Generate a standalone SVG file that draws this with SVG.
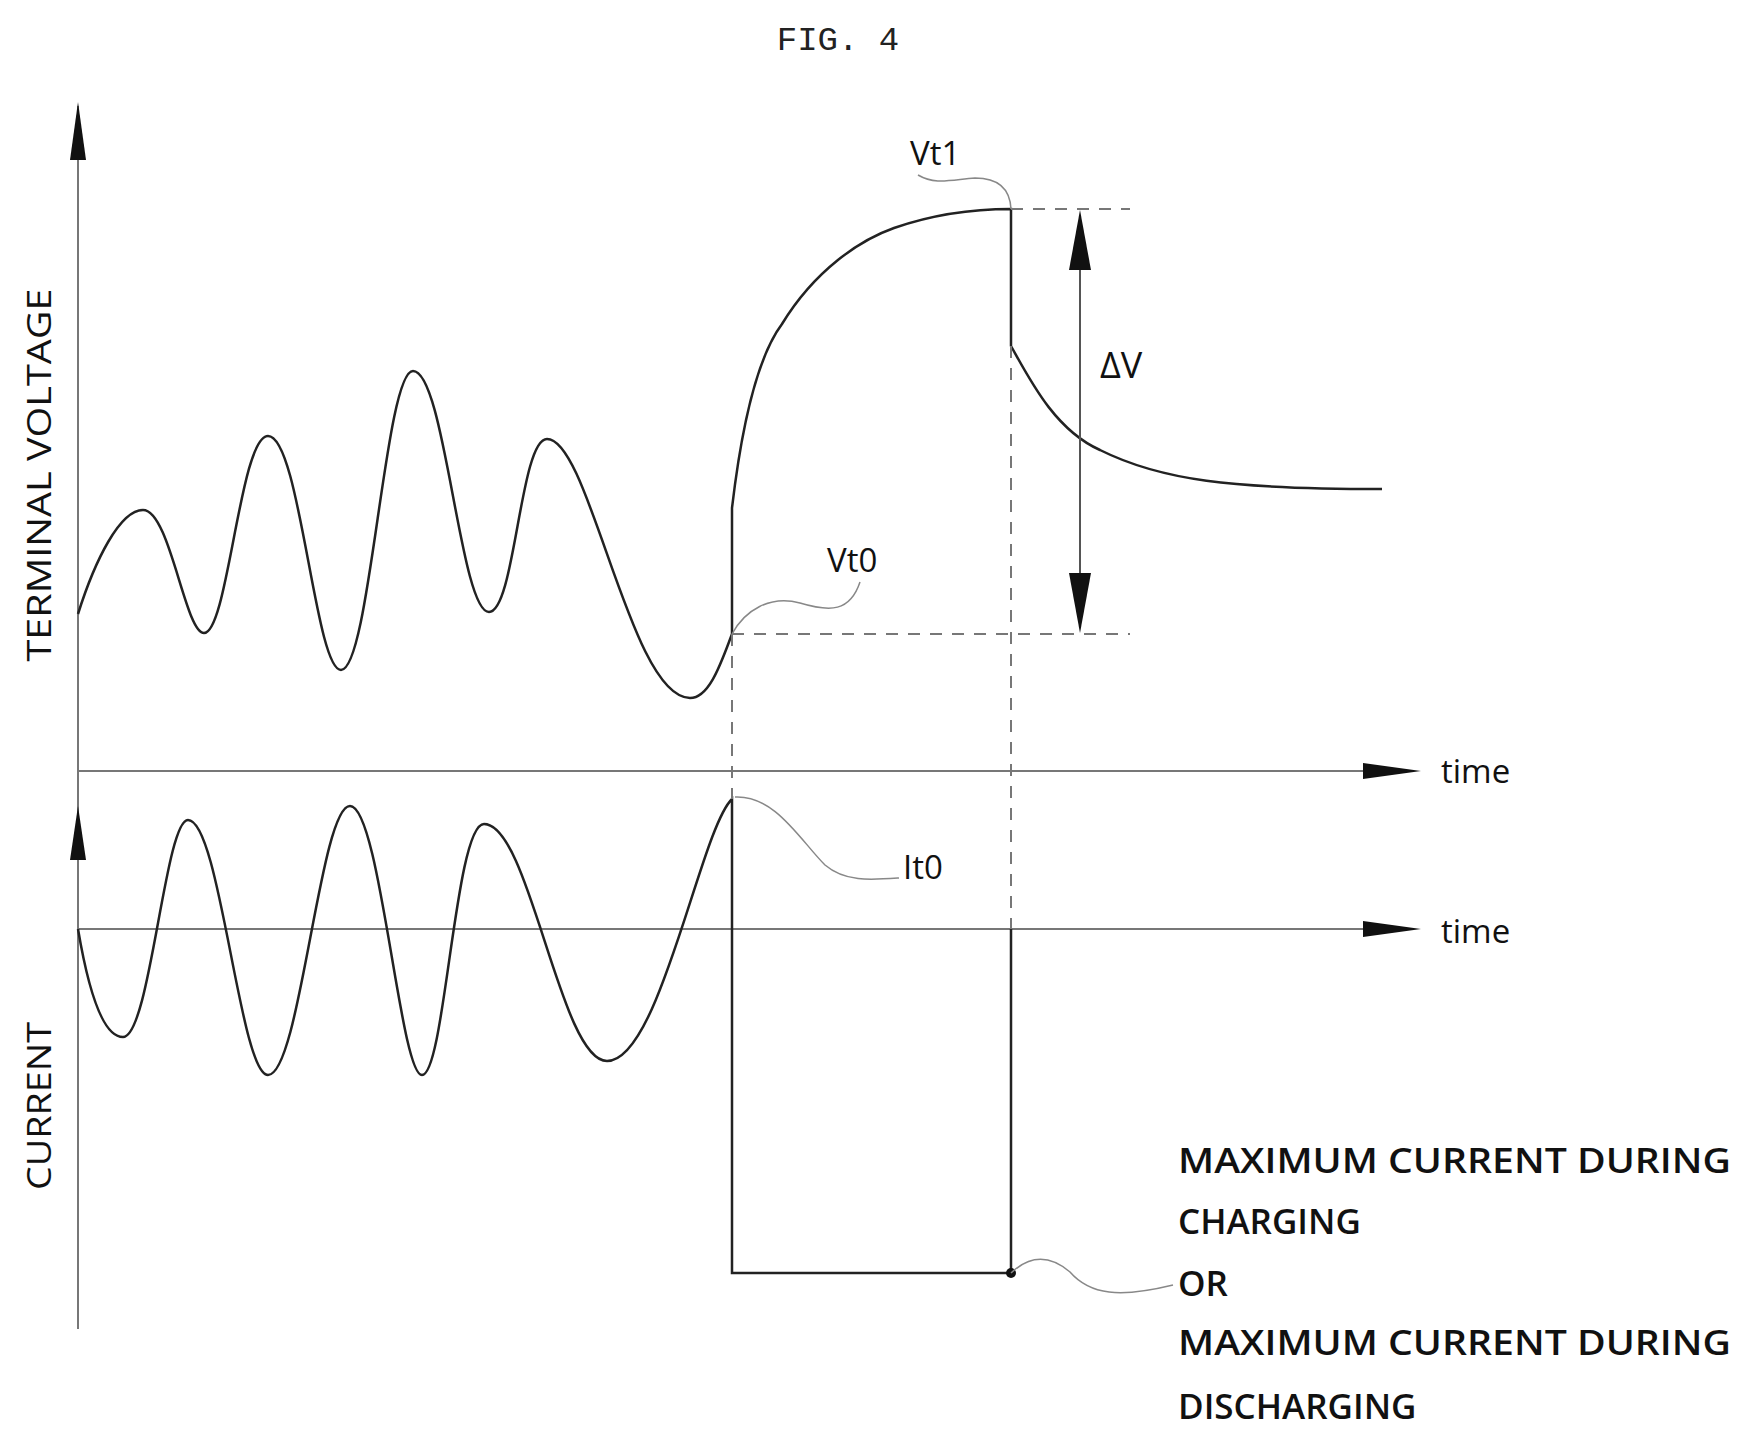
<svg xmlns="http://www.w3.org/2000/svg" width="1746" height="1438" viewBox="0 0 1746 1438">
<style>
.ax{stroke:#777;stroke-width:2;fill:none}
.cv{stroke:#222;stroke-width:2.5;fill:none}
.ds{stroke:#777;stroke-width:2;fill:none;stroke-dasharray:12 10}
.ld{stroke:#888;stroke-width:1.5;fill:none}
.t{font-family:"Open Sans","Noto Sans",sans-serif;fill:#111}
</style>
<rect width="1746" height="1438" fill="#fff"/>
<text x="838" y="50" font-family="Liberation Mono,monospace" font-size="34" text-anchor="middle" fill="#222">FIG. 4</text>
<g id="axes">
<line class="ax" x1="78" y1="1329" x2="78" y2="106"/>
<path d="M78,102 L70,160 L86,160 z" fill="#111"/>
<line class="ax" x1="78" y1="771" x2="1363" y2="771"/>
<path d="M1421,771 L1363,763 L1363,779 z" fill="#111"/>
<path d="M78,806 L70,860 L86,860 z" fill="#111"/>
<line class="ax" x1="78" y1="929" x2="1363" y2="929"/>
<path d="M1421,929 L1363,921 L1363,937 z" fill="#111"/>
<text class="t" x="1441" y="783" font-size="33">time</text>
<text class="t" x="1441" y="943" font-size="33">time</text>
<text class="t" font-size="32" transform="translate(51,475) rotate(-90)" text-anchor="middle" textLength="373" lengthAdjust="spacingAndGlyphs">TERMINAL VOLTAGE</text>
<text class="t" font-size="32" transform="translate(51,1106) rotate(-90)" text-anchor="middle" textLength="168" lengthAdjust="spacingAndGlyphs">CURRENT</text>
</g>
<g id="voltage">
<path class="cv" d="M78,614 C95,560 120,510 143,510 C170,510 185,633 204,633 C228,633 240,436 268,436 C300,436 315,670 341,670 C370,670 385,371 413,371 C445,371 460,612 489,612 C515,612 520,439 547,439 C590,439 630,698 690,698 C710,698 722,660 732,634 L732,508 C740,440 755,360 782,324 C815,270 860,240 894,228 C940,212 980,209 1011,209 L1011,346 C1030,380 1055,430 1100,450 C1160,480 1230,489 1382,489"/>
</g>
<g id="current">
<path class="cv" d="M78,929 C90,1000 105,1037 123,1037 C150,1037 165,820 188,820 C220,820 240,1075 268,1075 C300,1075 320,806 350,806 C380,806 400,1075 422,1075 C445,1075 455,824 484,824 C530,824 560,1061 607,1061 C660,1061 700,830 732,799 L732,1273 L1011,1273 L1011,929"/>
<circle cx="1011" cy="1273" r="5" fill="#111"/>
</g>
<g id="guides">
<line class="ds" x1="732" y1="634" x2="1130" y2="634"/>
<line class="ds" x1="1011" y1="209" x2="1130" y2="209"/>
<line class="ds" x1="732" y1="634" x2="732" y2="799"/>
<line class="ds" x1="1011" y1="346" x2="1011" y2="929"/>
<line x1="1080" y1="265" x2="1080" y2="578" stroke="#555" stroke-width="2"/>
<path d="M1080,210 L1069,270 L1091,270 z" fill="#111"/>
<path d="M1080,633 L1069,573 L1091,573 z" fill="#111"/>
<text class="t" x="1100" y="378" font-size="36">ΔV</text>
</g>
<g id="labels">
<text class="t" x="910" y="165" font-size="33">Vt1</text>
<path class="ld" d="M918,175 C935,185 950,180 975,178 C1000,178 1010,190 1011,209"/>
<text class="t" x="827" y="572" font-size="33">Vt0</text>
<path class="ld" d="M732,634 C745,610 770,595 800,603 C830,612 850,612 860,582"/>
<text class="t" x="903" y="879" font-size="33">It0</text>
<path class="ld" d="M735,797 C775,795 800,840 825,865 C845,882 870,880 899,878"/>
<path class="ld" d="M1011,1273 C1030,1255 1050,1255 1070,1272 C1090,1295 1120,1298 1173,1285"/>
<g font-weight="600">
<text class="t" x="1178" y="1173" font-size="35" textLength="553" lengthAdjust="spacingAndGlyphs">MAXIMUM CURRENT DURING</text>
<text class="t" x="1178" y="1234" font-size="35">CHARGING</text>
<text class="t" x="1178" y="1296" font-size="35">OR</text>
<text class="t" x="1178" y="1355" font-size="35" textLength="553" lengthAdjust="spacingAndGlyphs">MAXIMUM CURRENT DURING</text>
<text class="t" x="1178" y="1419" font-size="35">DISCHARGING</text>
</g>
</g>
</svg>
